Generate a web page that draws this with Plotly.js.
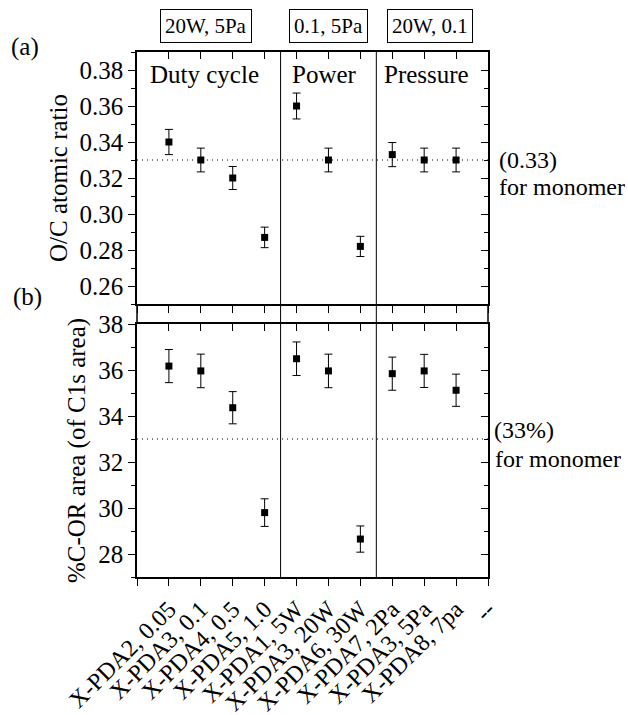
<!DOCTYPE html>
<html>
<head>
<meta charset="utf-8">
<script src="https://cdn.plot.ly/plotly-3.0.1.min.js"></script>
<style>html,body{margin:0;padding:0;background:#fff;}</style>
</head>
<body>
<div id="chart" style="width:628px;height:715px"></div>
<script>
// ---- data ----
const categories = ["X-PDA2, 0.05","X-PDA3, 0.1","X-PDA4, 0.5","X-PDA5, 1.0","X-PDA1, 5W","X-PDA3, 20W","X-PDA6, 30W","X-PDA7, 2Pa","X-PDA3, 5Pa","X-PDA8, 7pa","--"];
const ocRatio = [0.340,0.330,0.320,0.287,0.360,0.330,0.282,0.333,0.330,0.330];
const ocErr   = [0.0070,0.0066,0.0064,0.0057,0.0072,0.0066,0.0056,0.0067,0.0066,0.0066];
const corArea = [36.17,35.96,34.36,29.80,36.49,35.96,28.65,35.84,35.96,35.12];
const corErr  = [0.72,0.73,0.70,0.60,0.73,0.73,0.57,0.72,0.72,0.70];
const groupNames = ["Duty cycle","Power","Pressure"];
const groupConditions = ["20W, 5Pa","0.1, 5Pa","20W, 0.1"];
const groupSizes = [4,3,3];
const monomerOC = 0.33;
const monomerCOR = 33;

// ---- derived ----
const xIdx = ocRatio.map((_, i) => i + 1);
const allTicks = [0].concat(categories.map((_, i) => i + 1));
const tickText = [""].concat(categories);

const bounds = [];
let acc = 0;
groupSizes.forEach((s, i) => { acc += s; if (i < groupSizes.length - 1) bounds.push(acc + 0.5); });

function f(size) { return {family: 'Liberation Serif', size: size, color: '#000'}; }

const marker = {symbol: 'square', size: 7, color: '#000'};
const traces = [
  {x: xIdx, y: ocRatio, type: 'scatter', mode: 'markers', marker: marker,
   error_y: {type: 'data', array: ocErr, visible: true, color: '#000', thickness: 1, width: 4},
   xaxis: 'x', yaxis: 'y', showlegend: false},
  {x: xIdx, y: corArea, type: 'scatter', mode: 'markers', marker: marker,
   error_y: {type: 'data', array: corErr, visible: true, color: '#000', thickness: 1, width: 4},
   xaxis: 'x2', yaxis: 'y2', showlegend: false},
  {x: [], y: [], xaxis: 'x3', yaxis: 'y3', showlegend: false},
  {x: [], y: [], xaxis: 'x4', yaxis: 'y4', showlegend: false}
];

const xBase = {
  range: [0, categories.length], tickmode: 'array', tickvals: allTicks,
  showline: true, linecolor: '#000', linewidth: 1.5, tickcolor: '#000', tickwidth: 1.2,
  ticklen: 7, zeroline: false, showgrid: false, fixedrange: true
};
const yA = {range: [0.25, 0.39], tick0: 0.26, dtick: 0.02, tickformat: '.2f',
  minor: {dtick: 0.01, ticklen: 4, tickcolor: '#000', tickwidth: 1.2}};
const yB = {range: [27, 38], tick0: 28, dtick: 2,
  minor: {dtick: 1, ticklen: 4, tickcolor: '#000', tickwidth: 1.2}};
const yBase = {showline: true, linecolor: '#000', linewidth: 1.5, tickcolor: '#000', tickwidth: 1.2,
  ticklen: 7, zeroline: false, showgrid: false, fixedrange: true};

const domA = [0.52, 1];
const domB = [0, 0.4819];

const layout = {
  width: 628, height: 715,
  margin: {l: 137, r: 140, t: 52, b: 138},
  paper_bgcolor: '#fff', plot_bgcolor: 'rgba(0,0,0,0)',
  font: f(24),
  showlegend: false,
  xaxis: Object.assign({}, xBase, {anchor: 'y', ticks: 'outside', showticklabels: false}),
  xaxis3: Object.assign({}, xBase, {anchor: 'y', overlaying: 'x', side: 'top', ticks: 'inside', showticklabels: false}),
  xaxis2: Object.assign({}, xBase, {anchor: 'y2', ticks: 'outside', ticktext: tickText, tickangle: -45,
    tickfont: f(24)}),
  xaxis4: Object.assign({}, xBase, {anchor: 'y2', overlaying: 'x2', side: 'top', ticks: 'inside', showticklabels: false}),
  yaxis: Object.assign({}, yBase, yA, {domain: domA, anchor: 'x', ticks: 'outside',
    minor: Object.assign({}, yA.minor, {ticks: 'outside'}),
    tickfont: f(25),
    title: {text: 'O/C atomic ratio', font: f(25), standoff: 5}}),
  yaxis3: Object.assign({}, yBase, yA, {domain: domA, anchor: 'x', overlaying: 'y', side: 'right', ticks: 'inside',
    minor: Object.assign({}, yA.minor, {ticks: 'inside'}), showticklabels: false}),
  yaxis2: Object.assign({}, yBase, yB, {domain: domB, anchor: 'x2', ticks: 'outside',
    minor: Object.assign({}, yB.minor, {ticks: 'outside'}),
    tickfont: f(25),
    title: {text: '%C-OR area (of C1s area)', font: f(25), standoff: 5}}),
  yaxis4: Object.assign({}, yBase, yB, {domain: domB, anchor: 'x2', overlaying: 'y2', side: 'right', ticks: 'inside',
    minor: Object.assign({}, yB.minor, {ticks: 'inside'}), showticklabels: false}),
  shapes: [],
  annotations: []
};

// group separators through both panels
bounds.forEach(b => {
  layout.shapes.push({type: 'line', xref: 'x', yref: 'paper', x0: b, x1: b, y0: 0, y1: 1,
    line: {color: '#000', width: 1}});
});
// frame continues across the gap between the panels
[0, 1].forEach(px => {
  layout.shapes.push({type: 'line', xref: 'paper', yref: 'paper', x0: px, x1: px, y0: domB[1], y1: domA[0],
    line: {color: '#000', width: 1.5}});
});
// monomer reference lines
layout.shapes.push({type: 'line', xref: 'paper', yref: 'y', x0: 0, x1: 1, y0: monomerOC, y1: monomerOC,
  line: {color: '#000', width: 1.2, dash: '1px,4px'}});
layout.shapes.push({type: 'line', xref: 'paper', yref: 'y2', x0: 0, x1: 1, y0: monomerCOR, y1: monomerCOR,
  line: {color: '#000', width: 1.2, dash: '1px,4px'}});

const groupTitleX = [0.1923, 0.5356, 0.826];
const condBoxX = [2.15, 6.0, 9.17];
groupNames.forEach((g, i) => {
  layout.annotations.push({text: g, xref: 'paper', yref: 'paper', x: groupTitleX[i], y: 0.9562,
    xanchor: 'center', yanchor: 'middle', showarrow: false, font: f(25)});
  layout.annotations.push({text: groupConditions[i], xref: 'x', yref: 'paper', x: condBoxX[i], y: 1.0495,
    xanchor: 'center', yanchor: 'middle', showarrow: false, bordercolor: '#000', borderwidth: 1, borderpad: 4,
    font: f(21)});
});

layout.annotations.push({text: '(a)', xref: 'paper', yref: 'paper', x: -0.319, y: 1.0095,
  xanchor: 'center', yanchor: 'middle', showarrow: false, font: f(25)});
layout.annotations.push({text: '(b)', xref: 'paper', yref: 'paper', x: -0.313, y: 0.5333,
  xanchor: 'center', yanchor: 'middle', showarrow: false, font: f(25)});

const notes = [
  {t: '(' + monomerOC.toFixed(2) + ')', x: 1.0256, y: 0.7943},
  {t: 'for monomer', x: 1.0256, y: 0.7429},
  {t: '(' + monomerCOR + '%)', x: 1.0114, y: 0.2800},
  {t: 'for monomer', x: 1.0142, y: 0.2248}
];
notes.forEach(n => layout.annotations.push({text: n.t, xref: 'paper', yref: 'paper', x: n.x, y: n.y,
  xanchor: 'left', yanchor: 'middle', showarrow: false, font: f(24)}));

Plotly.newPlot('chart', traces, layout, {displayModeBar: false});
</script>
</body>
</html>
